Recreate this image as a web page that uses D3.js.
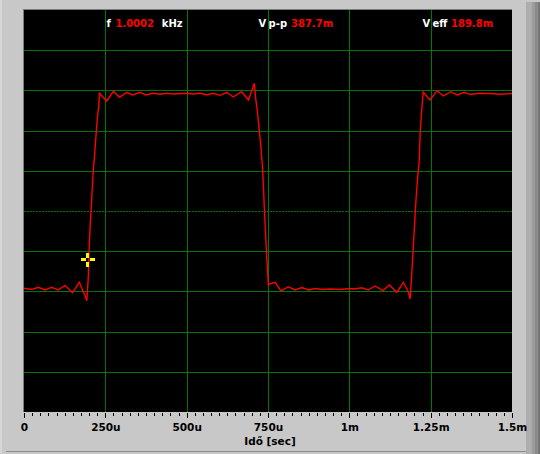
<!DOCTYPE html>
<html><head><meta charset="utf-8">
<script src="https://cdn.jsdelivr.net/npm/d3@7/dist/d3.min.js"></script>
<style>
html,body{margin:0;padding:0;background:#c8c8c8;overflow:hidden;}
svg{display:block;}
text{font-family:"DejaVu Sans",Verdana,sans-serif;font-weight:bold;}
</style></head>
<body><svg id="c" width="540" height="454"></svg>
<script>
// time in microseconds
const timeUs = [0,18,29,44,65,85,105,126,149,170,182,188,193,195,198,200,203,208,212,217,221,225,230,232,
254,275,293,316,334,357,375,396,418,439,459,500,520,541,562,582,603,623,643,669,690,708,
712,717,723,729,733,736,739,742,746,749,751,
756,772,790,812,833,854,875,895,916,941,971,1002,1017,1038,1058,1079,1103,1123,1146,1166,1181,1187,
1192,1195,1199,1203,1207,1211,1215,1218,1222,1227,
1248,1270,1289,1312,1332,1353,1371,1402,1432,1463,1500];
// signal in mV
const signalMv = [-138.4,-140.2,-139.7,-136.7,-141.5,-136.7,-141.5,-133.1,-146.3,-127.7,-144.5,-151.7,-160.7,-143.3,-114.6,-69.8,-30.4,19.7,64.5,100.3,132.5,163.0,189.8,210.8,
197.0,214.9,203.6,212.6,207.8,212.6,207.8,210.8,209.0,210.8,209.5,210.8,209.5,210.8,208.3,210.8,207.2,212.6,204.2,213.7,198.8,228.7,
201.8,180.9,145.1,109.3,79.3,43.5,1.8,-34.0,-81.8,-111.6,-132.5,
-130.4,-127.7,-143.3,-135.6,-141.5,-137.0,-141.5,-138.8,-140.6,-139.7,-140.6,-138.8,-139.7,-137.4,-141.5,-134.3,-142.7,-132.5,-145.6,-127.7,-144.5,-157.6,
-111.6,-81.8,-39.9,1.8,37.6,67.5,91.3,145.1,175.0,213.1,
198.8,215.5,206.0,213.7,207.8,212.6,209.0,210.8,210.4,209.0,210.4];
const xTicks = [0,250,500,750,1000,1250,1500];
const xTickLabels = ["0","250u","500u","750u","1m","1.25m","1.5m"];
const xMinorStep = 25;
const yGrid = [-288,-216,-144,-72,72,144,216,288];
const axisTitle = "Idő [sec]";
const cursorPoint = [196, -87];
const readouts = [
  {t:"f", c:"#fff", x:106.5},{t:"1.0002", c:"#f00", x:115.4},{t:"kHz", c:"#fff", x:161.8},
  {t:"V", c:"#fff", x:258.5},{t:"p-p", c:"#fff", x:268.6},{t:"387.7m", c:"#f00", x:291},
  {t:"V", c:"#fff", x:422.5},{t:"eff", c:"#fff", x:432.5},{t:"189.8m", c:"#f00", x:451}
];

const svg = d3.select("#c");
const L=24,R=512,T=10,B=412;
const x = d3.scaleLinear().domain([0,1500]).range([L,R]);
const y = d3.scaleLinear().domain([-360,360]).range([B,T]);

// window chrome
svg.append("rect").attr("x",0).attr("y",0).attr("width",540).attr("height",454).attr("fill","#c8c8c8");
svg.append("rect").attr("x",0).attr("y",0).attr("width",2).attr("height",454).attr("fill","#d6d6d6");
[["#adadad",526,5.5],["#9c9c9c",531.5,3.5],["#8a8a8a",535,2.5],["#767676",537.5,2.5]].forEach(b=>{
  svg.append("rect").attr("x",b[1]).attr("y",2).attr("width",b[2]).attr("height",452).attr("fill",b[0]);
});
svg.append("rect").attr("x",6).attr("y",451).attr("width",520).attr("height",1).attr("fill","#8c8c8c");

// plot area
svg.append("rect").attr("x",L-1).attr("y",T-1).attr("width",R-L+1).attr("height",B-T+1).attr("fill","#7a7a7a");
svg.append("rect").attr("x",L).attr("y",T).attr("width",R-L).attr("height",B-T).attr("fill","#000");

const gridColor = "rgb(0,120,0)";
const grid = svg.append("g");
grid.selectAll("rect.v").data(xTicks.slice(1,-1)).join("rect")
  .attr("x",d=>Math.round(x(d))).attr("y",T).attr("width",1).attr("height",B-T).attr("fill",gridColor);
grid.selectAll("rect.h").data(yGrid).join("rect")
  .attr("x",L).attr("y",d=>Math.round(y(d))).attr("width",R-L).attr("height",1).attr("fill",gridColor);
grid.append("line").attr("x1",L).attr("x2",R).attr("y1",Math.round(y(0))+0.5).attr("y2",Math.round(y(0))+0.5)
  .attr("stroke",gridColor).attr("stroke-width",1).attr("stroke-dasharray","2,1");

// signal
const pts = timeUs.map((t,i)=>[t,signalMv[i]]);
svg.append("path").datum(pts)
  .attr("d", d3.line().x(d=>x(d[0])).y(d=>y(d[1])))
  .attr("fill","none").attr("stroke","#ff0000").attr("stroke-width",1.4);

// cursor
const cx = x(cursorPoint[0]), cy = y(cursorPoint[1]);
const cg = svg.append("g").attr("fill","#ffff00").attr("shape-rendering","crispEdges");
cg.append("rect").attr("x",cx-1.5).attr("y",cy-7).attr("width",3).attr("height",5);
cg.append("rect").attr("x",cx-1.5).attr("y",cy+2).attr("width",3).attr("height",5);
cg.append("rect").attr("x",cx-7).attr("y",cy-1.5).attr("width",5).attr("height",3);
cg.append("rect").attr("x",cx+2).attr("y",cy-1.5).attr("width",5).attr("height",3);

// readouts
svg.selectAll("text.ro").data(readouts).join("text")
  .attr("x",d=>d.x).attr("y",27).attr("fill",d=>d.c).attr("font-size","10px").text(d=>d.t);

// axes
const minor = d3.range(0,1500+1,xMinorStep).filter(v=>!xTicks.includes(v));
const gMinor = svg.append("g").attr("transform",`translate(0,${B+1})`)
  .call(d3.axisBottom(x).tickValues(minor).tickSize(3).tickFormat(""));
gMinor.select(".domain").remove();
const gMajor = svg.append("g").attr("transform",`translate(0,${B+1})`)
  .call(d3.axisBottom(x).tickValues(xTicks).tickSize(5).tickFormat((d,i)=>xTickLabels[i]));
gMajor.select(".domain").remove();
svg.selectAll(".tick line").attr("stroke","#000").attr("shape-rendering","crispEdges");
gMajor.selectAll("text").attr("y",18).attr("dy",null).attr("fill","#000")
  .style("font-family",'"DejaVu Sans",Verdana,sans-serif').style("font-weight","bold").style("font-size","10.5px");
svg.append("text").attr("x",(L+R)/2+2).attr("y",445).attr("text-anchor","middle")
  .attr("font-size","10.5px").attr("fill","#000").text(axisTitle);
</script></body></html>
